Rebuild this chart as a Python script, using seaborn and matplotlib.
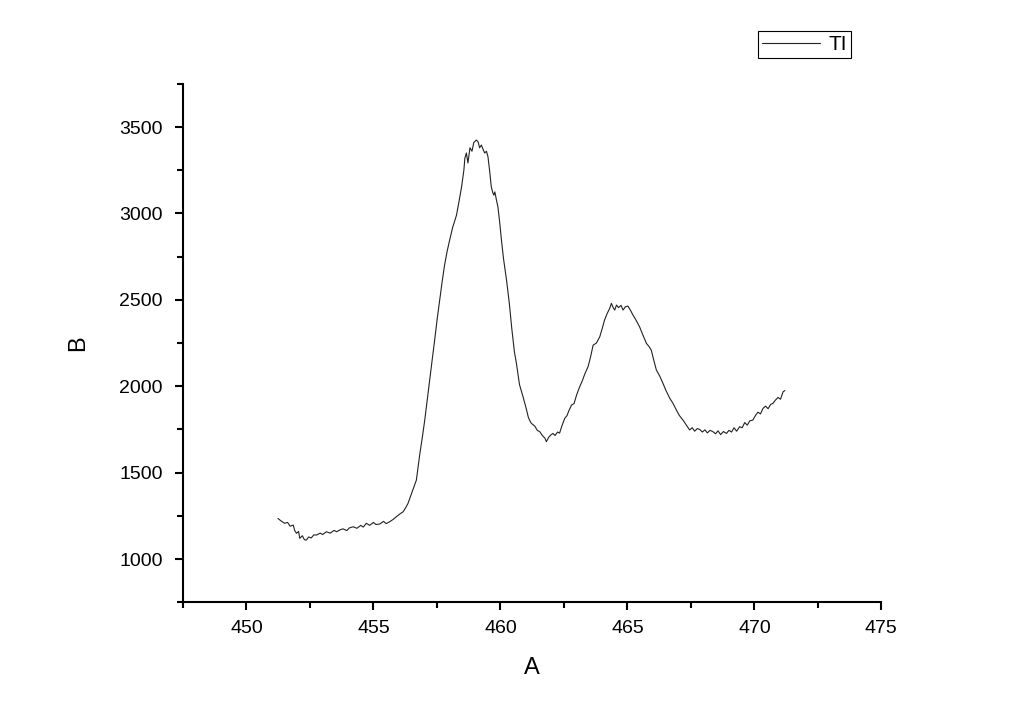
import pandas as pd
import seaborn as sns
import matplotlib.pyplot as plt
from matplotlib.ticker import MultipleLocator

# Values
wavelength = [
    451.24, 451.35, 451.50, 451.62, 451.72, 451.84, 451.90, 451.97, 452.05, 452.10,
    452.20, 452.28, 452.36, 452.45, 452.55, 452.65, 452.76, 452.90, 453.00, 453.15,
    453.30, 453.45, 453.55, 453.67, 453.80, 453.95, 454.05, 454.20, 454.35, 454.50,
    454.60, 454.72, 454.85, 455.00, 455.10, 455.25, 455.40, 455.50, 455.64, 455.78,
    455.90, 456.05, 456.17, 456.28, 456.36, 456.50, 456.60, 456.69, 456.82, 456.92,
    457.02, 457.12, 457.21, 457.31, 457.41, 457.51, 457.61, 457.70, 457.80, 457.90,
    458.00, 458.12, 458.27, 458.37, 458.47, 458.56, 458.60, 458.66, 458.72, 458.80,
    458.88, 458.95, 459.05, 459.12, 459.18, 459.25, 459.32, 459.38, 459.45, 459.51,
    459.58, 459.64, 459.70, 459.74, 459.78, 459.84, 459.90, 459.97, 460.04, 460.12,
    460.24, 460.35, 460.45, 460.55, 460.63, 460.75, 460.89, 461.00, 461.10, 461.16,
    461.22, 461.35, 461.45, 461.55, 461.65, 461.75, 461.81, 461.90, 462.00, 462.07,
    462.15, 462.25, 462.33, 462.42, 462.53, 462.62, 462.70, 462.80, 462.90, 463.00,
    463.12, 463.22, 463.32, 463.45, 463.55, 463.65, 463.78, 463.91, 464.00, 464.10,
    464.20, 464.30, 464.37, 464.44, 464.50, 464.57, 464.65, 464.75, 464.83, 464.92,
    465.02, 465.12, 465.22, 465.35, 465.48, 465.60, 465.75, 465.85, 465.94, 466.04,
    466.14, 466.27, 466.40, 466.52, 466.67, 466.80, 466.93, 467.05, 467.19, 467.32,
    467.45, 467.55, 467.65, 467.75, 467.85, 467.95, 468.05, 468.15, 468.25, 468.37,
    468.47, 468.57, 468.67, 468.78, 468.90, 469.00, 469.10, 469.20, 469.30, 469.42,
    469.52, 469.62, 469.72, 469.82, 469.94, 470.04, 470.14, 470.24, 470.34, 470.44,
    470.54, 470.64, 470.73, 470.83, 470.93, 471.03, 471.13, 471.20,
]
intensity = [
    1235, 1222, 1207, 1212, 1190, 1197, 1165, 1149, 1160, 1120,
    1135, 1112, 1110, 1128, 1122, 1140, 1139, 1150, 1142, 1158,
    1150, 1166, 1158, 1168, 1175, 1165, 1180, 1187, 1178, 1195,
    1185, 1207, 1195, 1212, 1200, 1203, 1218, 1205, 1216, 1230,
    1245, 1262, 1274, 1300, 1322, 1380, 1420, 1457, 1602, 1700,
    1804, 1925, 2036, 2150, 2267, 2390, 2499, 2600, 2701, 2780,
    2846, 2920, 2990, 3070, 3154, 3250, 3320, 3350, 3292, 3380,
    3360, 3410, 3425, 3415, 3380, 3396, 3370, 3350, 3360, 3328,
    3240, 3154, 3120, 3106, 3125, 3080, 3039, 2950, 2846, 2740,
    2615, 2480, 2330, 2200, 2132, 2010, 1939, 1880, 1820, 1800,
    1785, 1770, 1745, 1737, 1715, 1700, 1679, 1705, 1720, 1727,
    1715, 1735, 1729, 1770, 1814, 1830, 1860, 1891, 1900, 1950,
    1997, 2030, 2070, 2113, 2170, 2238, 2250, 2286, 2330, 2383,
    2420, 2450, 2480, 2455, 2441, 2470, 2455, 2468, 2441, 2460,
    2464, 2440, 2412, 2380, 2344, 2300, 2248, 2230, 2209, 2150,
    2094, 2060, 2017, 1975, 1930, 1900, 1862, 1830, 1804, 1775,
    1747, 1760, 1740, 1755, 1750, 1735, 1748, 1730, 1745, 1737,
    1725, 1742, 1720, 1738, 1727, 1745, 1735, 1760, 1740, 1766,
    1760, 1790, 1775, 1800, 1804, 1830, 1850, 1840, 1872, 1885,
    1870, 1895, 1901, 1920, 1935, 1925, 1968, 1975,
]
series_label = "TI"

sns.set_theme(style="ticks")
plt.rcParams['font.family'] = ['Liberation Sans', 'DejaVu Sans']
plt.rcParams['text.color'] = 'black'
plt.rcParams['axes.labelcolor'] = 'black'
plt.rcParams['xtick.color'] = 'black'
plt.rcParams['ytick.color'] = 'black'

df = pd.DataFrame({"A": wavelength, "B": intensity, "series": series_label})

fig = plt.figure(figsize=(10.24, 7.23), dpi=100)
ax = fig.add_axes([0.1787, 0.167, 0.682, 0.717])

sns.lineplot(data=df, x="A", y="B", hue="series", palette=["#222222"],
             linewidth=0.8, ax=ax, estimator=None, sort=False)

ax.set_xlim(447.5, 475)
ax.set_ylim(750, 3750)
ax.xaxis.set_major_locator(MultipleLocator(5))
ax.xaxis.set_minor_locator(MultipleLocator(2.5))
ax.yaxis.set_major_locator(MultipleLocator(500))
ax.yaxis.set_minor_locator(MultipleLocator(250))

sns.despine(ax=ax)
for side in ["left", "bottom"]:
    ax.spines[side].set_linewidth(1.5)
    ax.spines[side].set_color("black")
ax.tick_params(which="major", length=6, width=1.5, labelsize=14,
               direction="out")
ax.tick_params(axis="y", which="major", pad=8.5)
ax.tick_params(axis="x", which="major", pad=7)
ax.tick_params(which="minor", length=4, width=1.5, direction="out")

ax.set_xlabel("A", fontsize=17, labelpad=14)
ax.set_ylabel("B", fontsize=17, labelpad=22)

ax.legend(loc="upper left", bbox_to_anchor=(0.740, 0.957),
          bbox_transform=fig.transFigure, fontsize=15, frameon=True,
          fancybox=False, edgecolor="black", framealpha=1,
          handlelength=2.8, borderpad=0.2, handletextpad=0.4,
          borderaxespad=0)
ax.get_legend().get_frame().set_linewidth(0.8)

fig.savefig("out.png", dpi=100)
